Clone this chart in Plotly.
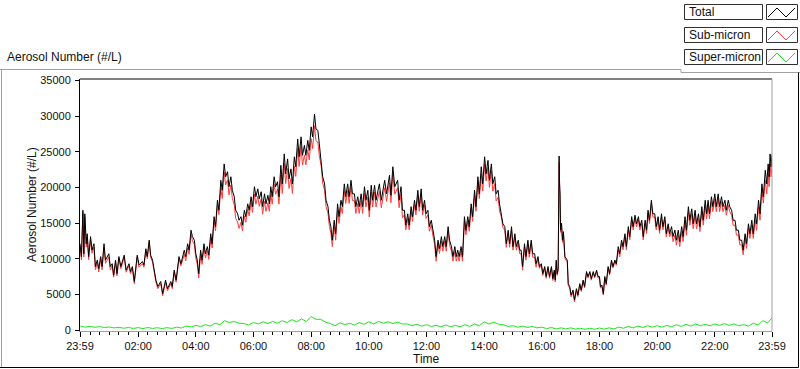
import plotly.graph_objects as go

# ---------------- data (minutes after midnight; -1 = 23:59 previous day) ----------------
t_total = [
    -1, 2, 5, 7, 9, 12, 14, 17, 21, 24, 28, 31, 35, 38, 42, 45, 49, 52, 59, 62,
    66, 69, 73, 76, 80, 84, 91, 95, 101, 104, 108, 112, 118, 122, 129, 132, 136, 139, 143, 146,
    150, 153, 157, 161, 167, 171, 177, 181, 188, 191, 195, 199, 205, 209, 216, 219, 223, 226, 230, 233,
    237, 240, 243, 246, 250, 253, 257, 260, 264, 267, 271, 274, 278, 281, 285, 288, 292, 295, 299, 302,
    306, 309, 313, 316, 320, 323, 327, 330, 334, 337, 341, 344, 348, 351, 355, 358, 362, 365, 369, 372,
    376, 379, 383, 386, 390, 393, 396, 399, 403, 406, 410, 413, 417, 420, 424, 427, 431, 434, 438, 441,
    445, 448, 452, 455, 459, 462, 466, 469, 473, 476, 480, 483, 487, 490, 494, 497, 501, 504, 508, 511,
    515, 518, 521, 524, 528, 531, 535, 538, 542, 545, 549, 552, 556, 559, 563, 566, 570, 573, 577, 580,
    584, 587, 591, 594, 598, 601, 605, 608, 612, 615, 622, 626, 633, 637, 643, 646, 650, 654, 660, 663,
    667, 670, 674, 677, 681, 684, 688, 691, 695, 698, 702, 705, 709, 712, 716, 719, 723, 726, 730, 733,
    737, 740, 744, 747, 751, 754, 758, 761, 765, 768, 772, 775, 779, 782, 785, 788, 792, 795, 799, 802,
    806, 809, 813, 816, 820, 823, 827, 830, 834, 837, 841, 844, 848, 851, 855, 858, 862, 865, 869, 872,
    876, 879, 883, 886, 890, 893, 897, 900, 904, 907, 911, 914, 917, 920, 924, 927, 931, 934, 938, 941,
    945, 948, 952, 955, 959, 962, 966, 969, 973, 976, 980, 983, 986, 988, 990, 992,
    994, 996, 997, 998, 999, 1001, 1003, 1005, 1008,
    1013, 1015, 1018, 1021, 1025, 1028, 1032, 1035, 1039, 1042, 1046, 1049, 1053, 1056, 1060, 1063,
    1067, 1070, 1074, 1077, 1080, 1082, 1085, 1088, 1091, 1094, 1098, 1101, 1105, 1108, 1112, 1115,
    1119, 1122, 1126, 1129, 1133, 1136, 1140, 1143, 1147, 1150, 1154, 1157, 1161, 1164, 1168, 1171,
    1175, 1178, 1181, 1184, 1188, 1191, 1195, 1198, 1202, 1205, 1209, 1212, 1216, 1219, 1223, 1226,
    1230, 1233, 1237, 1240, 1244, 1247, 1251, 1254, 1258, 1261, 1265, 1268, 1272, 1275, 1279, 1282,
    1286, 1289, 1293, 1296, 1300, 1303, 1306, 1309, 1313, 1316, 1320, 1323, 1327, 1330, 1334, 1337,
    1341, 1344, 1348, 1351, 1355, 1358, 1362, 1365, 1369, 1372, 1376, 1379, 1383, 1386, 1390, 1393,
    1397, 1400, 1404, 1407, 1411, 1414, 1418, 1421, 1425, 1428, 1431, 1433, 1435, 1437, 1439,
]

total = [
    12100, 10300, 16800, 10700, 16300, 12100, 13500, 10300, 13100, 11200, 12100, 8900, 9800, 8600, 10300, 8900, 12100, 9800, 10700, 8900,
    9300, 7700, 9800, 7900, 10300, 8900, 10500, 8400, 9300, 8200, 8900, 6800, 10500, 9100, 9600, 9100, 11400, 10300, 12600, 10500,
    9800, 8400, 7000, 6100, 6800, 5100, 7000, 5800, 6800, 6100, 8400, 7000, 10300, 9300, 11200, 10300, 12100, 11200, 14000, 13100,
    12600, 10700, 9800, 7900, 11200, 9800, 12100, 10700, 11700, 10500, 13500, 12100, 15900, 14500, 18200, 16800, 21000, 19600, 23300, 21500,
    22200, 20100, 21500, 19600, 18700, 16800, 16300, 15400, 15900, 14700, 16800, 15900, 17700, 16800, 18700, 17300, 20100, 18700, 19800, 18400,
    19400, 17300, 19100, 17700, 18900, 17700, 20100, 18700, 21500, 20100, 20800, 18700, 23100, 20500, 24700, 21900, 24000, 21200, 22600, 20500,
    24300, 22900, 26800, 24300, 27100, 24500, 25900, 24500, 26600, 25200, 28500, 27100, 30300, 28200, 28000, 26100, 23800, 21500, 20500, 18200,
    17300, 15400, 14500, 12600, 15400, 13500, 17700, 15900, 18200, 17300, 20500, 18700, 20500, 18700, 21000, 19100, 19100, 17300, 18700, 17300,
    19100, 17300, 20100, 18200, 19600, 16800, 20300, 18200, 20300, 18200, 20500, 18200, 21000, 19100, 21700, 18900, 22900, 20100, 21000, 18200,
    20100, 16800, 16800, 14700, 16300, 14700, 17300, 15900, 18200, 16800, 19600, 17300, 19800, 16800, 18200, 16300, 16800, 14500, 15400, 14000,
    12600, 10300, 12600, 11400, 13100, 11700, 13100, 11700, 14500, 12600, 11700, 10300, 11700, 10300, 11200, 10300, 11700, 10300, 15900, 14000,
    15900, 14500, 17700, 15900, 19600, 17300, 21500, 19100, 22900, 20500, 24300, 21900, 23800, 21000, 23300, 20500, 21500, 19100, 19600, 17700,
    16300, 14900, 14500, 12100, 14000, 12100, 14500, 11700, 13500, 11700, 12600, 11200, 11200, 8900, 12100, 10300, 12600, 10700, 12600, 10700,
    10700, 9300, 10300, 8900, 9300, 7900, 8900, 7500, 8900, 7500, 8900, 7200, 8400, 7000, 9800, 7900,
    8600, 24400, 20500, 19100, 14000, 15000, 12600, 13800, 10300,
    9800, 6500, 6100, 4900, 5600, 4200, 5800, 4900, 6500, 5600, 7000, 6100, 8200, 7500, 8200, 7200,
    8200, 7500, 8400, 7500, 7500, 6100, 6300, 5100, 7500, 6500, 8900, 7900, 9800, 8900, 9800, 9300,
    11700, 10700, 12600, 11700, 13500, 11700, 14500, 13100, 15900, 14500, 16100, 14900, 15900, 14500, 15400, 13100,
    15400, 14000, 16800, 15400, 18200, 16300, 16300, 14500, 15900, 14000, 16300, 14500, 15900, 13500, 14900, 13500,
    14500, 13100, 14000, 12600, 14000, 12400, 14500, 13100, 15900, 14000, 17300, 15400, 17000, 14900, 16800, 14900,
    16300, 14500, 17300, 15400, 18200, 16300, 18200, 16300, 18700, 17300, 19100, 17300, 19100, 17300, 18700, 17300,
    18200, 16800, 18200, 17300, 16800, 15400, 15400, 14000, 14000, 12600, 12600, 11200, 13500, 12100, 14900, 13500,
    15400, 13500, 16300, 14900, 18200, 16300, 20500, 18700, 22400, 20500, 23300, 21500, 24700, 22900, 24600,
]

sub_micron = [
    11650, 9850, 16350, 10250, 15850, 11650, 13050, 9850, 12650, 10750, 11650, 8450, 9350, 8150, 9850, 8450, 11650, 9350, 10250, 8450,
    9000, 7400, 9500, 7600, 10000, 8600, 10200, 8100, 9000, 7900, 8600, 6500, 10200, 8800, 9300, 8800, 11100, 10000, 12300, 10200,
    9500, 8100, 6700, 5800, 6500, 4800, 6700, 5500, 6500, 5800, 8100, 6700, 10000, 9000, 10600, 9700, 11500, 10600, 13400, 12500,
    12000, 10100, 9200, 7300, 10600, 9200, 11500, 10100, 11100, 9900, 12900, 11500, 15300, 13900, 17600, 16200, 19850, 18450, 22150, 20350,
    21050, 18950, 20350, 18450, 17550, 15650, 15150, 14250, 15100, 13900, 16000, 15100, 16900, 16000, 17900, 16500, 19050, 17650, 18750, 17350,
    18350, 16250, 18050, 16650, 17850, 16650, 19050, 17650, 20450, 19050, 19750, 17650, 21750, 19150, 23350, 20550, 22650, 19850, 21250, 19150,
    22950, 21550, 25450, 22950, 25750, 23150, 24550, 23150, 25250, 23850, 26850, 25450, 28650, 26550, 26350, 24450, 22900, 20600, 19600, 17300,
    16400, 14500, 13600, 11700, 14500, 12600, 16750, 14950, 17250, 16350, 19550, 17750, 19550, 17750, 20050, 18150, 18150, 16350, 17750, 16350,
    18150, 16350, 19150, 17250, 18650, 15850, 19350, 17250, 19350, 17250, 19450, 17150, 19950, 18050, 20650, 17850, 21850, 19050, 19950, 17150,
    19050, 15750, 16150, 14050, 15650, 14050, 16650, 15250, 17550, 16150, 18950, 16650, 19150, 16150, 17550, 15650, 16150, 13850, 14750, 13350,
    11950, 9650, 11950, 10750, 12450, 11050, 12450, 11050, 13850, 11950, 11050, 9650, 11050, 9650, 10550, 9650, 11050, 9650, 15250, 13350,
    15250, 13850, 17050, 15250, 18950, 16650, 20850, 18450, 21900, 19500, 23300, 20900, 22800, 20000, 22300, 19500, 20500, 18100, 18600, 16700,
    15800, 14400, 14000, 11600, 13500, 11600, 14000, 11200, 13000, 11200, 12100, 10700, 10700, 8400, 11600, 9800, 12100, 10200, 12100, 10200,
    10200, 8800, 10050, 8650, 9050, 7650, 8650, 7250, 8650, 7250, 8650, 6950, 8150, 6750, 9550, 7650,
    8350, 23500, 20000, 18700, 13700, 14700, 12300, 13500, 10000,
    9550, 6250, 5850, 4650, 5350, 3950, 5600, 4700, 6300, 5400, 6800, 5900, 8000, 7300, 8000, 7000,
    8000, 7300, 8200, 7300, 7300, 5900, 6100, 4900, 7300, 6300, 8700, 7700, 9600, 8700, 9600, 9100,
    11250, 10250, 12150, 11250, 13050, 11250, 14050, 12650, 15450, 14050, 15650, 14450, 15450, 14050, 14950, 12650,
    14950, 13550, 16350, 14950, 17750, 15850, 15850, 14050, 15450, 13550, 15850, 14050, 15450, 13050, 14450, 13050,
    13800, 12400, 13300, 11900, 13300, 11700, 13800, 12400, 15200, 13300, 16600, 14700, 16300, 14200, 16100, 14200,
    15600, 13800, 16600, 14700, 17500, 15600, 17500, 15600, 18000, 16600, 18400, 16600, 18400, 16600, 18000, 16600,
    17500, 16100, 17500, 16600, 16100, 14700, 14700, 13300, 13350, 11950, 11950, 10550, 12850, 11450, 14250, 12850,
    14750, 12850, 15400, 14000, 17300, 15400, 19600, 17800, 21000, 19100, 21900, 20100, 23300, 21500, 23100,
]

t_super = [
    0, 10, 20, 30, 40, 50, 60, 70, 80, 90, 100, 110, 120, 130, 140, 150, 160, 170, 180, 190,
    200, 210, 220, 230, 240, 250, 260, 270, 280, 290, 300, 310, 320, 330, 340, 350, 360, 370, 380, 390,
    400, 410, 420, 430, 440, 450, 460, 470, 480, 490, 500, 510, 520, 530, 540, 550, 560, 570, 580, 590,
    600, 610, 620, 630, 640, 650, 660, 670, 680, 690, 700, 710, 720, 730, 740, 750, 760, 770, 780, 790,
    800, 810, 820, 830, 840, 850, 860, 870, 880, 890, 900, 910, 920, 930, 940, 950, 960, 970, 980, 990,
    1000, 1010, 1020, 1030, 1040, 1050, 1060, 1070, 1080, 1090, 1100, 1110, 1120, 1130, 1140, 1150, 1160, 1170, 1180, 1190,
    1200, 1210, 1220, 1230, 1240, 1250, 1260, 1270, 1280, 1290, 1300, 1310, 1320, 1330, 1340, 1350, 1360, 1370, 1380, 1390,
    1400, 1410, 1420, 1430, 1439,
]

super_micron = [
    550, 400, 500, 380, 480, 350, 420, 300, 380, 250, 350, 220, 330, 200, 350, 220, 320, 200, 330, 220,
    400, 280, 550, 420, 650, 480, 750, 550, 950, 750, 1300, 1050, 1200, 950, 900, 700, 1050, 850, 1150, 900,
    1200, 950, 1300, 1050, 1450, 1150, 1550, 1200, 1900, 1500, 1500, 1100, 900, 600, 1000, 750, 950, 700, 1050, 800,
    1150, 850, 1200, 950, 1150, 900, 1100, 850, 850, 600, 800, 550, 750, 500, 650, 450, 700, 450, 650, 450,
    750, 500, 850, 600, 1150, 850, 1100, 800, 750, 500, 600, 400, 550, 350, 500, 300, 400, 200, 350, 150,
    300, 150, 300, 120, 250, 100, 250, 100, 280, 120, 300, 150, 400, 250, 500, 300, 550, 350, 600, 400,
    600, 400, 650, 450, 750, 500, 800, 550, 850, 600, 800, 600, 850, 650, 900, 650, 850, 600, 750, 550,
    950, 700, 1300, 1000, 1700,
]

series_names = ["Total", "Sub-micron", "Super-micron"]
series_colors = ["#000000", "#ff3c3c", "#1ee61e"]

y_ticks = [0, 5000, 10000, 15000, 20000, 25000, 30000, 35000]
x_tick_vals = [-1, 120, 240, 360, 480, 600, 720, 840, 960, 1080, 1200, 1320, 1439]
x_tick_text = ["23:59", "02:00", "04:00", "06:00", "08:00", "10:00", "12:00",
               "14:00", "16:00", "18:00", "20:00", "22:00", "23:59"]

# ---------------- figure ----------------
W, H = 800, 369
ML, MR, MT, MB = 80, 28, 79, 38
PW, PH = W - ML - MR, H - MT - MB


def px(x):
    return (x - ML) / PW


def py(y):
    return (H - MB - y) / PH


FONT = "Liberation Sans, Arial, sans-serif"
TXT = "#111111"

fig = go.Figure()
fig.add_trace(go.Scatter(x=t_super, y=super_micron, mode="lines", name=series_names[2],
                         line=dict(color=series_colors[2], width=1), showlegend=False))
fig.add_trace(go.Scatter(x=t_total, y=sub_micron, mode="lines", name=series_names[1],
                         line=dict(color=series_colors[1], width=1), showlegend=False))
fig.add_trace(go.Scatter(x=t_total, y=total, mode="lines", name=series_names[0],
                         line=dict(color=series_colors[0], width=1), showlegend=False))

shapes = []
# plot frame: top (black), right (gray)
shapes.append(dict(type="line", xref="paper", yref="paper", x0=0, x1=1, y0=1, y1=1,
                   line=dict(color="#000000", width=1)))
shapes.append(dict(type="line", xref="paper", yref="paper", x0=1, x1=1, y0=0, y1=1,
                   line=dict(color="#a0a0a0", width=1)))
# outer panel frame
GR = "#a0a0a0"
shapes.append(dict(type="line", xref="paper", yref="paper", x0=px(0), x1=px(681), y0=py(69.5), y1=py(69.5),
                   line=dict(color=GR, width=1)))
shapes.append(dict(type="line", xref="paper", yref="paper", x0=px(681), x1=px(681), y0=py(69.5), y1=py(72.5),
                   line=dict(color=GR, width=1)))
shapes.append(dict(type="line", xref="paper", yref="paper", x0=px(681), x1=px(800), y0=py(72.5), y1=py(72.5),
                   line=dict(color=GR, width=1)))
shapes.append(dict(type="line", xref="paper", yref="paper", x0=px(1.5), x1=px(1.5), y0=py(69.5), y1=py(367.5),
                   line=dict(color=GR, width=1)))
shapes.append(dict(type="line", xref="paper", yref="paper", x0=px(0), x1=px(798.5), y0=py(367.5), y1=py(367.5),
                   line=dict(color="#000000", width=1)))
shapes.append(dict(type="line", xref="paper", yref="paper", x0=px(798.5), x1=px(798.5), y0=py(72.5), y1=py(367.5),
                   line=dict(color="#000000", width=1)))

annotations = []
# legend boxes
rows = [(4.5, 19.5), (27.5, 42.5), (49.5, 64.5)]
for i, (y0, y1) in enumerate(rows):
    shapes.append(dict(type="rect", xref="paper", yref="paper", x0=px(684.5), x1=px(762.5), y0=py(y1), y1=py(y0),
                       line=dict(color="#303030", width=1), fillcolor="white"))
    shapes.append(dict(type="rect", xref="paper", yref="paper", x0=px(766.5), x1=px(797.5), y0=py(y1), y1=py(y0),
                       line=dict(color="#303030", width=1), fillcolor="white"))
    xs = [768, 777, 786, 795]
    ys = [y1 - 2.5, y0 + 3.5, y1 - 2.5, y0 + 3.5]
    path = "M " + " L ".join(f"{px(a):.5f},{py(b):.5f}" for a, b in zip(xs, ys))
    shapes.append(dict(type="path", xref="paper", yref="paper", path=path,
                       line=dict(color=series_colors[i], width=1)))
    annotations.append(dict(text=series_names[i], xref="paper", yref="paper", x=px(686.5), y=py((y0 + y1) / 2),
                            xanchor="left", yanchor="middle", showarrow=False,
                            font=dict(family=FONT, size=12, color=TXT)))

annotations.append(dict(text="Aerosol Number (#/L)", xref="paper", yref="paper", x=px(5), y=py(57),
                        xanchor="left", yanchor="middle", showarrow=False,
                        font=dict(family=FONT, size=12, color=TXT)))
annotations.append(dict(text="Aerosol Number (#/L)", xref="paper", yref="paper", x=px(32), y=py(205),
                        xanchor="center", yanchor="middle", textangle=-90, showarrow=False,
                        font=dict(family=FONT, size=12, color=TXT)))
annotations.append(dict(text="Time", xref="paper", yref="paper", x=0.5, y=py(359),
                        xanchor="center", yanchor="middle", showarrow=False,
                        font=dict(family=FONT, size=12, color=TXT)))

fig.update_layout(
    width=W, height=H,
    margin=dict(l=ML, r=MR, t=MT, b=MB, pad=0),
    paper_bgcolor="white", plot_bgcolor="white",
    showlegend=False,
    shapes=shapes, annotations=annotations,
    xaxis=dict(range=[-1, 1439], tickmode="array", tickvals=x_tick_vals, ticktext=x_tick_text,
               showgrid=False, zeroline=False, showline=True, linecolor="#a0a0a0", linewidth=1,
               ticks="outside", ticklen=5, tickcolor="#000000", tickwidth=1,
               tickfont=dict(family=FONT, size=11, color=TXT),
               minor=dict(tickmode="array", tickvals=list(range(0, 1440, 20)), ticks="outside",
                          ticklen=3, tickcolor="#000000", tickwidth=1, showgrid=False)),
    yaxis=dict(range=[-140, 35210], tickmode="array", tickvals=y_ticks, tickformat="d",
               showgrid=False, zeroline=False, showline=True, linecolor="#000000", linewidth=1,
               ticks="outside", ticklen=4, tickcolor="#000000", tickwidth=1, ticklabelstandoff=2,
               tickfont=dict(family=FONT, size=11, color=TXT)),
)

fig.write_html("out.html",
               config={"displayModeBar": False, "staticPlot": True},
               post_script="document.body.style.margin='0';document.body.style.overflow='hidden';")
